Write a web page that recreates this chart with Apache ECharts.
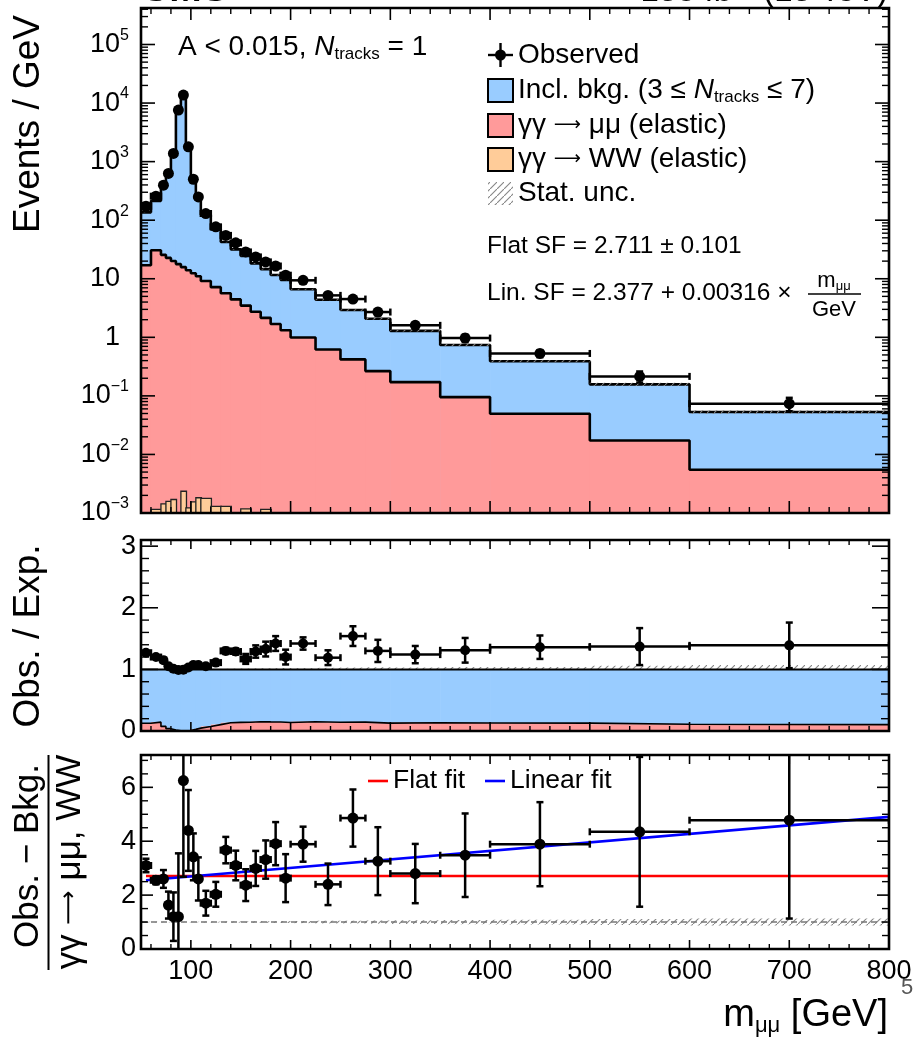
<!DOCTYPE html>
<html>
<head>
<meta charset="utf-8">
<script src="https://cdn.jsdelivr.net/npm/echarts@6.0.0/dist/echarts.min.js"></script>
<style>
html,body{margin:0;padding:0;background:#fff;overflow:hidden;}
#chart{width:920px;height:1039px;}
</style>
</head>
<body>
<div id="chart"></div>
<script>
// ---------------- data ----------------
const binEdges = [50,60,70,75,80,85,90,95,100,105,110,120,130,140,150,160,170,180,190,200,225,250,275,300,350,400,500,600,800];
const observed = [173,257,396,628,1380,7600,13700,1790,500,250,130,77,55,41,28.7,23.6,19.4,16.5,11.5,9.4,5.2,4.5,2.7,1.6,0.97,0.53,0.215,0.0736];
const observedErr = [4.2,5.1,8.9,11.2,16.6,39,52,19,10,7,3.6,2.8,2.3,2.0,1.7,1.5,1.4,1.3,1.07,0.61,0.46,0.42,0.33,0.18,0.14,0.073,0.046,0.019];
const inclBkg = [119.2,183.3,318.4,575.3,1346,7659,13753,1724,454.6,223,114.8,62.2,36.65,27.36,21.0,15.56,12.45,9.91,8.26,5.63,3.75,2.50,1.815,1.118,0.645,0.340,0.140,0.0475];
const mumuElastic = [17.0,30.7,25.6,22.7,20.1,17.8,15.8,14.0,12.4,11.0,9.16,7.19,5.65,4.44,3.48,2.74,2.15,1.69,1.32,0.99,0.62,0.42,0.265,0.172,0.0953,0.0496,0.0173,0.00547];
const wwElastic = [0,0.00115,0.00143,0.00158,0.0017,0,0.00235,0.00122,0.00155,0.00182,0.00178,0.0013,0.0013,0,0.00118,0,0.00115,0,0,0,0,0,0,0,0,0,0,0];
const bkgStatRel = [0.004,0.004,0.004,0.003,0.002,0.001,0.001,0.002,0.004,0.005,0.006,0.008,0.01,0.012,0.014,0.016,0.018,0.02,0.022,0.02,0.025,0.03,0.035,0.03,0.04,0.04,0.06,0.07];
const ratioObsExp = [1.27,1.20,1.15,1.05,1.01,0.99,0.995,1.03,1.07,1.07,1.05,1.11,1.30,1.29,1.17,1.29,1.33,1.42,1.20,1.42,1.19,1.54,1.30,1.24,1.31,1.36,1.37,1.39];
const ratioErr = [0.03,0.025,0.03,0.02,0.012,0.006,0.005,0.011,0.021,0.03,0.03,0.04,0.05,0.05,0.08,0.1,0.12,0.12,0.12,0.1,0.12,0.16,0.18,0.14,0.2,0.19,0.3,0.37];
const sfValues = [3.1,2.55,2.6,1.63,1.2,1.2,6.25,4.4,3.42,2.6,1.7,2.03,3.67,3.1,2.37,2.99,3.32,3.91,2.63,3.89,2.4,4.86,3.26,2.8,3.48,3.89,4.35,4.78];
const sfErr = [0.25,0.15,0.33,0.5,0.9,2.35,3.57,1.5,0.87,0.8,0.46,0.46,0.49,0.55,0.59,0.65,0.71,0.8,0.89,0.65,0.77,1.06,1.26,1.1,1.55,1.56,2.78,3.65];
const sfStatBand = [0.01,0.01,0.01,0.01,0.01,0.01,0.01,0.01,0.01,0.01,0.015,0.015,0.02,0.02,0.025,0.025,0.03,0.03,0.035,0.04,0.05,0.05,0.06,0.07,0.08,0.09,0.11,0.13];
const flatSF = 2.711;
const linSF = [2.377, 0.00316];
const fitRange = [55, 800];
const xTickLabels = [100,200,300,400,500,600,700,800];
const logDecades = [-3,-2,-1,0,1,2,3,4,5];
const ratioTicks = [0,1,2,3];
const sfTicks = [0,2,4,6];

// ---------------- derived tables ----------------
const nb = binEdges.length - 1;
const centers = binEdges.slice(0, -1).map((x, i) => (x + binEdges[i + 1]) / 2);
const total = inclBkg.map((b, i) => b + mumuElastic[i] + wwElastic[i]);
const sigTop = mumuElastic.map((m, i) => m + wwElastic[i]);
const sigFrac = sigTop.map((s, i) => s / total[i]);
const ones = total.map(() => 1);
const LOG_FLOOR = 1e-6;

const FONT = "'Liberation Sans', Arial, Helvetica, sans-serif";
const ARROWFONT = "'DejaVu Sans', sans-serif";
const BLUE = '#99ccff', RED = '#ff9a9a', ORANGE = '#ffcc99';

const hatchCanvas = (() => {
  const c = document.createElement('canvas'); c.width = 7; c.height = 7;
  const g = c.getContext('2d'); g.strokeStyle = '#858585'; g.lineWidth = 1.1;
  g.beginPath(); g.moveTo(-1, 8); g.lineTo(8, -1); g.stroke();
  return c;
})();
const hatchFill = () => ({ image: hatchCanvas, repeat: 'repeat' });

function stepData(vals) {
  const d = vals.map((v, i) => [binEdges[i], v]);
  d.push([binEdges[nb], vals[nb - 1]]);
  return d;
}

function histRect(gi, lows, highs, styleFn, z) {
  const data = [];
  for (let i = 0; i < nb; i++) if (highs[i] > lows[i]) data.push([binEdges[i], binEdges[i + 1], lows[i], highs[i]]);
  return {
    type: 'custom', xAxisIndex: gi, yAxisIndex: gi, z, silent: true, clip: true,
    encode: { x: [0, 1], y: [2, 3] }, data,
    renderItem(params, api) {
      const a = api.coord([api.value(0), api.value(3)]);
      const b = api.coord([api.value(1), api.value(2)]);
      return { type: 'rect', shape: { x: a[0], y: a[1], width: b[0] - a[0] + 0.6, height: b[1] - a[1] }, style: styleFn() };
    }
  };
}

function stepLine(gi, vals, color, width, z) {
  return { type: 'line', xAxisIndex: gi, yAxisIndex: gi, step: 'end', symbol: 'none', silent: true, z,
    data: stepData(vals), lineStyle: { color, width }, clip: true };
}

function straight(gi, pts, color, width, z, dash) {
  return { type: 'line', xAxisIndex: gi, yAxisIndex: gi, symbol: 'none', silent: true, z,
    data: pts, lineStyle: { color, width, type: dash || 'solid' }, clip: true };
}

function pointSeries(gi, vals, errs, r, z, logAxis) {
  const data = vals.map((v, i) => [binEdges[i], binEdges[i + 1], centers[i], v, errs[i]]);
  return {
    type: 'custom', xAxisIndex: gi, yAxisIndex: gi, z, silent: true, clip: true,
    encode: { x: [0, 1, 2], y: [3] }, data,
    renderItem(params, api) {
      const x0 = api.value(0), x1 = api.value(1), xc = api.value(2), v = api.value(3), e = api.value(4);
      const lo = logAxis ? Math.max(v - e, LOG_FLOOR) : v - e;
      const pc = api.coord([xc, v]), pl = api.coord([x0, v]), pr = api.coord([x1, v]);
      const pu = api.coord([xc, v + e]), pd = api.coord([xc, lo]);
      const cap = 3.5;
      const L = (a, b, c, d) => ({ type: 'line', shape: { x1: a, y1: b, x2: c, y2: d }, style: { stroke: '#000', lineWidth: 2.5 } });
      return { type: 'group', children: [
        L(pl[0], pc[1], pr[0], pc[1]), L(pc[0], pu[1], pc[0], pd[1]),
        L(pc[0] - cap, pu[1], pc[0] + cap, pu[1]), L(pc[0] - cap, pd[1], pc[0] + cap, pd[1]),
        L(pl[0], pc[1] - cap, pl[0], pc[1] + cap), L(pr[0], pc[1] - cap, pr[0], pc[1] + cap),
        { type: 'circle', shape: { cx: pc[0], cy: pc[1], r }, style: { fill: '#000' } }
      ] };
    }
  };
}

const xMajorTicks = [100, 200, 300, 400, 500, 600, 700, 800];
const xMinorTicks = []; for (let v = 60; v < 800; v += 20) if (v % 100 !== 0) xMinorTicks.push(v);
const logMinor = []; logDecades.forEach(n => { for (let k = 2; k <= 9; k++) { const v = k * Math.pow(10, n); if (v < 4.2e5) logMinor.push(v); } });
const ratioMinor = []; for (let k = 1; k <= 15; k++) if (k % 5) ratioMinor.push(k * 0.2);
const sfMinor = []; for (let k = 1; k <= 14; k++) if (k % 4) sfMinor.push(k * 0.5);

function frameSeries(gi, yRef, yMaj, yMin, lx, sx, ly, sy) {
  return {
    type: 'custom', xAxisIndex: gi, yAxisIndex: gi, z: 10, silent: true, clip: false,
    encode: { x: 0, y: 1 }, data: [[100, yRef]],
    renderItem(params, api) {
      const cs = params.coordSys; const L = cs.x, T = cs.y, R = L + cs.width, B = T + cs.height;
      const ch = [];
      const ln = (a, b, c, d, w) => ({ type: 'line', shape: { x1: a, y1: b, x2: c, y2: d }, style: { stroke: '#000', lineWidth: w } });
      xMajorTicks.forEach(v => { const x = api.coord([v, yRef])[0]; ch.push(ln(x, B, x, B - lx, 1.6), ln(x, T, x, T + lx, 1.6)); });
      xMinorTicks.forEach(v => { const x = api.coord([v, yRef])[0]; ch.push(ln(x, B, x, B - sx, 1.4), ln(x, T, x, T + sx, 1.4)); });
      yMaj.forEach(v => { const y = api.coord([100, v])[1]; ch.push(ln(L, y, L + ly, y, 1.6), ln(R, y, R - ly, y, 1.6)); });
      yMin.forEach(v => { const y = api.coord([100, v])[1]; ch.push(ln(L, y, L + sy, y, 1.4), ln(R, y, R - sy, y, 1.4)); });
      ch.push({ type: 'rect', shape: { x: L, y: T, width: R - L, height: B - T }, style: { fill: 'none', stroke: '#000', lineWidth: 2.6 } });
      return { type: 'group', children: ch };
    }
  };
}

const series = [
  // ---- top panel ----
  histRect(0, total.map(() => LOG_FLOOR), total, () => ({ fill: BLUE }), 2),
  histRect(0, sigTop.map(() => LOG_FLOOR), sigTop, () => ({ fill: RED }), 2),
  histRect(0, wwElastic.map(() => LOG_FLOOR), wwElastic, () => ({ fill: ORANGE, stroke: '#222', lineWidth: 1.3 }), 3),
  stepLine(0, total, '#000', 2.6, 4),
  stepLine(0, sigTop, '#000', 2.6, 4),
  histRect(0, total.map((t, i) => t * (1 - bkgStatRel[i])), total.map((t, i) => t * (1 + bkgStatRel[i])), () => ({ fill: hatchFill() }), 5),
  pointSeries(0, observed, observedErr, 5.5, 7, true),
  frameSeries(0, 1, logDecades.map(n => Math.pow(10, n)), logMinor, 12, 6, 14, 7),
  // ---- ratio panel ----
  histRect(1, ones.map((o, i) => 1 - bkgStatRel[i]), ones.map((o, i) => 1 + bkgStatRel[i]), () => ({ fill: hatchFill() }), 1),
  histRect(1, sigFrac, ones, () => ({ fill: BLUE }), 2),
  histRect(1, ones.map(() => 0), sigFrac, () => ({ fill: RED }), 2),
  stepLine(1, sigFrac, '#000', 1.6, 4),
  straight(1, [[binEdges[0], 1], [binEdges[nb], 1]], '#000', 2, 4),
  pointSeries(1, ratioObsExp, ratioErr, 5, 7, false),
  frameSeries(1, 1, ratioTicks, ratioMinor, 9, 5, 17, 8),
  // ---- scale-factor panel ----
  histRect(2, ones.map((o, i) => 1 - sfStatBand[i]), ones.map((o, i) => 1 + sfStatBand[i]), () => ({ fill: hatchFill() }), 1),
  straight(2, [[binEdges[0], 1], [binEdges[nb], 1]], '#777', 1.5, 2, [6, 4]),
  straight(2, [[fitRange[0], flatSF], [fitRange[1], flatSF]], '#ff0000', 2.6, 3),
  straight(2, [[fitRange[0], linSF[0] + linSF[1] * fitRange[0]], [fitRange[1], linSF[0] + linSF[1] * fitRange[1]]], '#0000ff', 2.6, 3),
  pointSeries(2, sfValues, sfErr, 5.5, 7, false),
  frameSeries(2, 1, sfTicks, sfMinor, 9, 5, 12, 7)
];

const logLabel = v => {
  const lg = Math.log10(v); const n = Math.round(lg);
  if (Math.abs(lg - n) > 1e-6) return '';
  if (n === 0) return '{p|1}';
  if (n === 1) return '{p|10}';
  return '{b|10}{s|' + (n < 0 ? '\u2212' + (-n) : n) + '}';
};

function T(x, y, text, size, styleExtra, elExtra) {
  const el = { type: 'text', x, y, silent: true, z: 20,
    style: Object.assign({ text, fill: '#000', font: size + 'px ' + FONT, fontSize: size, fontFamily: FONT,
      textAlign: 'left', align: 'left', textVerticalAlign: 'middle', verticalAlign: 'middle' }, styleExtra || {}) };
  return Object.assign(el, elExtra || {});
}
const centerAlign = { textAlign: 'center', align: 'center' };
const rightAlign = { textAlign: 'right', align: 'right' };
const richSet = size => ({
  i: { fontStyle: 'italic', fontSize: size, fontFamily: FONT },
  s: { fontSize: Math.round(size * 0.62), fontFamily: FONT, verticalAlign: 'bottom', lineHeight: 18 },
  a: { fontSize: Math.round(size * 0.68), fontFamily: ARROWFONT }
});
const ARROW = '\u27F6';

const legendX = 488;
const graphics = [
  // cut header
  T(141, -10, 'CMS', 39, { fontWeight: 'bold', font: 'bold 39px ' + FONT }),
  T(888, -8, '138 fb\u207B\u00B9 (13 TeV)', 33, rightAlign),
  // selection label
  T(178, 47, 'A < 0.015, {i|N}{s|tracks} = 1', 28, { rich: richSet(28), lineHeight: 32 }),
  // legend: observed
  { type: 'line', shape: { x1: legendX, y1: 55, x2: legendX + 25, y2: 55 }, style: { stroke: '#000', lineWidth: 2.4 }, z: 20 },
  { type: 'line', shape: { x1: legendX + 12.5, y1: 43, x2: legendX + 12.5, y2: 67 }, style: { stroke: '#000', lineWidth: 2.4 }, z: 20 },
  { type: 'circle', shape: { cx: legendX + 12.5, cy: 55, r: 5.5 }, style: { fill: '#000' }, z: 20 },
  T(518, 55, 'Observed', 28),
  { type: 'rect', shape: { x: legendX, y: 79, width: 25, height: 23 }, style: { fill: BLUE, stroke: '#000', lineWidth: 2 }, z: 20 },
  T(518, 90, 'Incl. bkg. (3 \u2264 {i|N}{s|tracks} \u2264 7)', 28, { rich: richSet(28), lineHeight: 32 }),
  { type: 'rect', shape: { x: legendX, y: 114, width: 25, height: 23 }, style: { fill: RED, stroke: '#000', lineWidth: 2 }, z: 20 },
  T(518, 125, '\u03B3\u03B3 {a|' + ARROW + '} \u03BC\u03BC (elastic)', 28, { rich: richSet(28), lineHeight: 32 }),
  { type: 'rect', shape: { x: legendX, y: 148, width: 25, height: 23 }, style: { fill: ORANGE, stroke: '#000', lineWidth: 2 }, z: 20 },
  T(518, 159, '\u03B3\u03B3 {a|' + ARROW + '} WW (elastic)', 28, { rich: richSet(28), lineHeight: 32 }),
  { type: 'rect', shape: { x: legendX, y: 182, width: 25, height: 23 }, style: { fill: hatchFill() }, z: 20 },
  T(518, 193, 'Stat. unc.', 28),
  // SF texts
  T(487, 246, 'Flat SF = 2.711 \u00B1 0.101', 24.5),
  T(487, 293, 'Lin. SF = 2.377 + 0.00316 \u00D7', 24.5),
  T(834, 281, 'm{s|\u03BC\u03BC}', 22, Object.assign({ rich: { s: { fontSize: 13, fontFamily: FONT, verticalAlign: 'bottom', lineHeight: 14 } }, lineHeight: 24 }, centerAlign)),
  { type: 'line', shape: { x1: 808, y1: 294, x2: 861, y2: 294 }, style: { stroke: '#000', lineWidth: 1.6 }, z: 20 },
  T(834, 310, 'GeV', 22, centerAlign),
  // bottom legend
  { type: 'line', shape: { x1: 368, y1: 781, x2: 388, y2: 781 }, style: { stroke: '#ff0000', lineWidth: 2.6 }, z: 20 },
  T(393, 781, 'Flat fit', 26.5),
  { type: 'line', shape: { x1: 485, y1: 781, x2: 505, y2: 781 }, style: { stroke: '#0000ff', lineWidth: 2.6 }, z: 20 },
  T(510, 781, 'Linear fit', 26.5),
  // axis titles
  T(29, 124, 'Events / GeV', 37, centerAlign, { rotation: Math.PI / 2 }),
  T(29, 636, 'Obs. / Exp.', 37, centerAlign, { rotation: Math.PI / 2 }),
  T(28, 856, 'Obs. \u2212 Bkg.', 35, centerAlign, { rotation: Math.PI / 2 }),
  { type: 'line', shape: { x1: 48.5, y1: 755, x2: 48.5, y2: 970 }, style: { stroke: '#000', lineWidth: 2 }, z: 20 },
  T(70, 862, '\u03B3\u03B3 {a|' + ARROW + '} \u03BC\u03BC, WW', 35, Object.assign({ rich: richSet(35), lineHeight: 40 }, centerAlign), { rotation: Math.PI / 2 }),
  T(888, 1016, 'm{s|\u03BC\u03BC} [GeV]', 38, Object.assign({ rich: { s: { fontSize: 22, fontFamily: FONT, verticalAlign: 'bottom', lineHeight: 20 } }, lineHeight: 42 }, rightAlign)),
  T(907, 988, '5', 22, Object.assign({ fill: '#555' }, centerAlign))
];

const axisCommon = { axisLine: { show: false }, axisTick: { show: false }, splitLine: { show: false } };
const option = {
  animation: false,
  backgroundColor: '#fff',
  grid: [
    { left: 141, top: 8, width: 748, height: 505 },
    { left: 141, top: 540, width: 748, height: 191 },
    { left: 141, top: 755, width: 748, height: 194 }
  ],
  xAxis: [0, 1, 2].map(gi => Object.assign({
    type: 'value', gridIndex: gi, min: 50, max: 800, interval: 50,
    axisLabel: gi === 2 ? { show: true, fontFamily: FONT, fontSize: 27, color: '#000', margin: 9,
      formatter: v => (xTickLabels.indexOf(v) >= 0 ? String(v) : '') } : { show: false }
  }, axisCommon)),
  yAxis: [
    Object.assign({ type: 'log', gridIndex: 0, logBase: 10, min: 1e-3, max: 4.2e5,
      axisLabel: { margin: 12, color: '#000', fontFamily: FONT, fontSize: 27, formatter: logLabel, showMaxLabel: false,
        rich: { b: { fontFamily: FONT, fontSize: 27, lineHeight: 34, color: '#000' },
                p: { fontFamily: FONT, fontSize: 27, lineHeight: 34, color: '#000', padding: [0, 9, 0, 0] },
                s: { fontFamily: FONT, fontSize: 16, lineHeight: 18, verticalAlign: 'top', color: '#000' } } } }, axisCommon),
    Object.assign({ type: 'value', gridIndex: 1, min: 0, max: 3.1, interval: 1,
      axisLabel: { margin: 5, color: '#000', fontFamily: FONT, fontSize: 27, formatter: v => (ratioTicks.indexOf(v) >= 0 ? String(v) : '') } }, axisCommon),
    Object.assign({ type: 'value', gridIndex: 2, min: 0, max: 7.2, interval: 2,
      axisLabel: { margin: 5, color: '#000', fontFamily: FONT, fontSize: 27, formatter: v => (sfTicks.indexOf(v) >= 0 ? String(v) : '') } }, axisCommon)
  ],
  series,
  graphic: { elements: graphics }
};

const chart = echarts.init(document.getElementById('chart'), null, { renderer: 'canvas' });
chart.setOption(option);
</script>
</body>
</html>
